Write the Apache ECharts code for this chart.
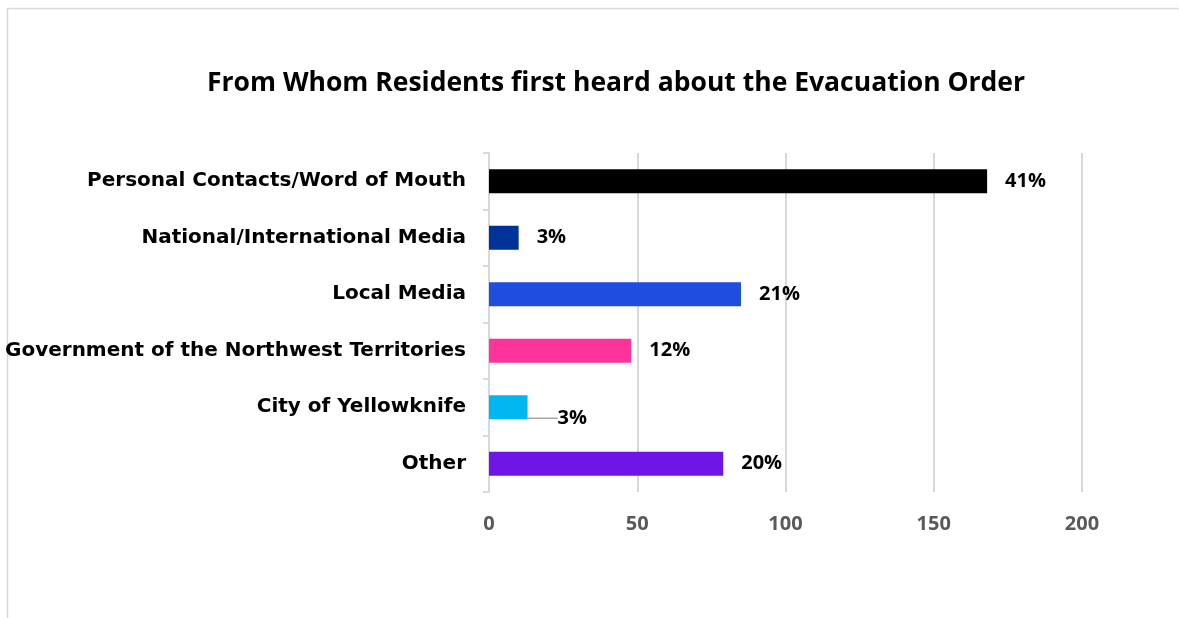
<!DOCTYPE html>
<html>
<head>
<meta charset="utf-8">
<script src="https://cdn.jsdelivr.net/npm/echarts@6/dist/echarts.min.js"></script>
<style>
  html, body { margin: 0; padding: 0; background: #ffffff; }
  #main { width: 1179px; height: 618px; }
</style>
</head>
<body>
<div id="main"></div>
<script>
// categories, top to bottom
var categories = [
  'Personal Contacts/Word of Mouth',
  'National/International Media',
  'Local Media',
  'Government of the Northwest Territories',
  'City of Yellowknife',
  'Other'
];
// number of residents
var counts = [168, 10, 85, 48, 13, 79];
// share labels printed next to each bar
var shareLabels = ['41%', '3%', '21%', '12%', '3%', '20%'];
var barColors = ['#000000', '#003399', '#1F4DE0', '#FF3399', '#00B7F1', '#7015E8'];
var xTicks = [0, 50, 100, 150, 200];

var chart = echarts.init(document.getElementById('main'));

chart.setOption({
  backgroundColor: '#ffffff',
  animation: false,
  graphic: [{
    // chart frame, like the spreadsheet chart border
    type: 'rect',
    shape: { x: 7.5, y: 8.5, width: 1300, height: 700 },
    style: { fill: 'none', stroke: '#d9d9d9', lineWidth: 1.5 },
    silent: true
  }],
  title: {
    text: 'From Whom Residents first heard about the Evacuation Order',
    left: 202,
    top: 65,
    textStyle: {
      fontFamily: 'Open Sans',
      fontWeight: 'bold',
      fontSize: 26.5,
      color: '#000000'
    }
  },
  grid: {
    left: 489,
    right: 97,
    top: 153,
    bottom: 126,
    containLabel: false,
    outerBoundsMode: 'none'
  },
  xAxis: {
    type: 'value',
    min: xTicks[0],
    max: xTicks[xTicks.length - 1],
    interval: 50,
    axisLine: { show: false },
    axisTick: { show: false },
    splitLine: { lineStyle: { color: '#d9d9d9', width: 2 } },
    axisLabel: {
      margin: 22,
      fontFamily: 'Open Sans',
      fontWeight: 'bold',
      fontSize: 20,
      color: '#595959'
    }
  },
  yAxis: {
    type: 'category',
    inverse: true,
    data: categories,
    axisLine: { lineStyle: { color: '#d9d9d9', width: 2 } },
    axisTick: { show: true, length: 6, lineStyle: { color: '#d9d9d9', width: 2 } },
    axisLabel: {
      margin: 23,
      fontFamily: 'DejaVu Sans',
      fontWeight: 'bold',
      fontSize: 20,
      color: '#000000'
    }
  },
  series: [{
    type: 'bar',
    barWidth: 24,
    data: counts.map(function (v, i) {
      var item = { value: v, itemStyle: { color: barColors[i] } };
      // only the small City bar has its label pulled away with a leader line
      if (i === 4) {
        item.labelLine = { show: true, lineStyle: { color: '#a6a6a6', width: 1.5 } };
      }
      return item;
    }),
    label: {
      show: true,
      position: 'right',
      distance: 18,
      offset: [0, 2],
      formatter: function (p) { return shareLabels[p.dataIndex]; },
      fontFamily: 'Open Sans',
      fontWeight: 'bold',
      fontSize: 20,
      color: '#000000'
    },
    labelLine: { show: false },
    labelLayout: function (params) {
      if (params.dataIndex === 4) {
        return { dx: 12, dy: 11 };
      }
    }
  }]
});
</script>
</body>
</html>
